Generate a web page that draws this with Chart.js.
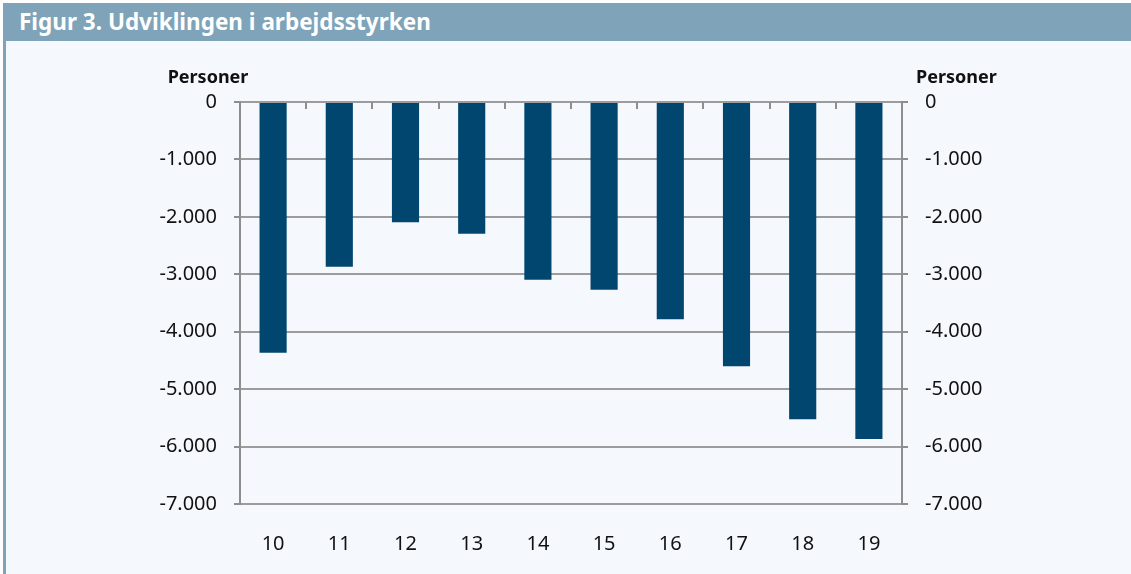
<!DOCTYPE html>
<html lang="da">
<head>
<meta charset="utf-8">
<title>Figur 3. Udviklingen i arbejdsstyrken</title>
<script src="https://cdn.jsdelivr.net/npm/chart.js@4.4.1/dist/chart.umd.min.js"></script>
<style>
  html, body { margin: 0; padding: 0; background: #ffffff; }
  body { width: 1131px; height: 574px; position: relative; overflow: hidden; font-family: "Noto Sans", "Open Sans", sans-serif; }
  #title {
    position: absolute; left: 3px; top: 3px; width: 1128px; height: 38px;
    background: #7fa3b8; color: #ffffff; font-weight: bold; font-size: 22.5px;
    line-height: 38px; padding-left: 16px; box-sizing: border-box;
  }
  #panel {
    position: absolute; left: 3px; top: 41px; width: 1128px; height: 533px;
    background: #f5f9fd; border-left: 3px solid #7fa3b8; box-sizing: border-box;
  }
  #chart { position: absolute; left: 0; top: 0; }
</style>
</head>
<body>
<div id="title">Figur 3. Udviklingen i arbejdsstyrken</div>
<div id="panel">
  <canvas id="chart" width="1125" height="533"></canvas>
</div>
<script>
// ===== Data =====
const categories = ['10', '11', '12', '13', '14', '15', '16', '17', '18', '19'];
const arbejdsstyrke = [-4365, -2870, -2095, -2295, -3095, -3270, -3785, -4600, -5525, -5870];
const yMin = -7000;
const yMax = 0;
const yStep = 1000;
const unitLabel = 'Personer';

// Danish number format: -1.000
function formatDa(v) {
    const s = Math.abs(v).toString().replace(/\B(?=(\d{3})+(?!\d))/g, '.');
    return (v < 0 ? '-' : '') + s;
}

const axisGrey = '#8e8e8e';
const gridGrey = '#9c9c9c';
const textColor = '#111111';
const tickFont = { family: '"Noto Sans", "Open Sans", sans-serif', size: 20 };

// Unit labels above both value axes + small category ticks on the zero line
const extrasPlugin = {
    id: 'extras',
    afterDraw(chart) {
        const ctx = chart.ctx;
        const x = chart.scales.x;
        const top = chart.chartArea.top;
        ctx.save();
        ctx.strokeStyle = axisGrey;
        ctx.lineWidth = 2;
        for (let i = 1; i < categories.length; i++) {
            const bx = Math.round((x.getPixelForValue(i - 1) + x.getPixelForValue(i)) / 2);
            ctx.beginPath();
            ctx.moveTo(bx, top);
            ctx.lineTo(bx, top + 7);
            ctx.stroke();
        }
        ctx.fillStyle = textColor;
        ctx.font = 'bold 18px "Noto Sans", "Open Sans", sans-serif';
        ctx.textBaseline = 'alphabetic';
        ctx.textAlign = 'center';
        ctx.fillText(unitLabel, chart.chartArea.left - 32, 42);
        ctx.textAlign = 'left';
        ctx.fillText(unitLabel, chart.chartArea.right + 14, 42);
        ctx.restore();
    }
};

const ctx = document.getElementById('chart');
new Chart(ctx, {
    type: 'bar',
    data: {
        labels: categories,
        datasets: [{
            label: 'Arbejdsstyrken',
            data: arbejdsstyrke,
            backgroundColor: '#00466e',
            borderWidth: 0,
            barPercentage: 0.41,
            categoryPercentage: 1.0
        }]
    },
    options: {
        responsive: false,
        animation: false,
        layout: { padding: { top: 61, left: 0, right: 0, bottom: 0 } },
        plugins: {
            legend: { display: false },
            tooltip: { enabled: false }
        },
        scales: {
            x: {
                position: 'bottom',
                offset: true,
                grid: { display: false },
                border: { display: false },
                ticks: { color: textColor, font: tickFont, padding: 20, maxRotation: 0 },
                afterFit(scale) { scale.height = 70; }
            },
            y: {
                position: 'left',
                min: yMin,
                max: yMax,
                grid: { color: gridGrey, lineWidth: 2, tickLength: 6, tickColor: axisGrey },
                border: { color: axisGrey, width: 2 },
                ticks: { stepSize: yStep, color: textColor, font: tickFont, padding: 17, callback: formatDa },
                afterFit(scale) { scale.width = 234; }
            },
            y2: {
                position: 'right',
                min: yMin,
                max: yMax,
                grid: { drawOnChartArea: false, lineWidth: 2, tickLength: 6, tickColor: axisGrey },
                border: { color: axisGrey, width: 2 },
                ticks: { stepSize: yStep, color: textColor, font: tickFont, padding: 17, callback: formatDa },
                afterFit(scale) { scale.width = 229; }
            }
        }
    },
    plugins: [extrasPlugin]
});
</script>
</body>
</html>
